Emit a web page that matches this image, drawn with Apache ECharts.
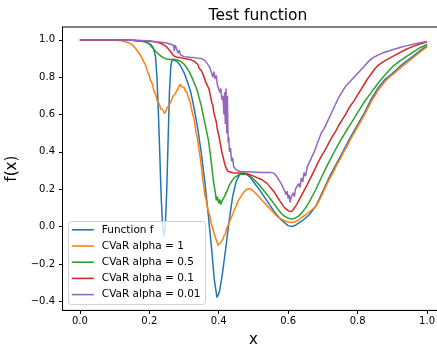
<!DOCTYPE html>
<html>
<head>
<meta charset="utf-8">
<script src="https://cdn.jsdelivr.net/npm/echarts@6/dist/echarts.min.js"></script>
<style>
  html, body { margin: 0; padding: 0; background: #fff; }
  #chart { width: 437px; height: 345px; }
</style>
</head>
<body>
<div id="chart"></div>
<script>
// Tick positions
const xTicks = [0, 0.2, 0.4, 0.6, 0.8, 1.0];
const yTicks = [-0.4, -0.2, 0.0, 0.2, 0.4, 0.6, 0.8, 1.0];

// Series names
const seriesNames = ['Function f', 'CVaR alpha = 1', 'CVaR alpha = 0.5', 'CVaR alpha = 0.1', 'CVaR alpha = 0.01'];

// Function f
const funcF = [
  [0, 1], [0.1, 1], [0.15, 0.998], [0.19, 0.99], [0.205, 0.975], [0.212, 0.955], [0.218, 0.91],
  [0.222, 0.8], [0.226, 0.62], [0.23, 0.4], [0.234, 0.17], [0.238, 0.01], [0.242, -0.05],
  [0.246, 0.0], [0.25, 0.18], [0.254, 0.45], [0.258, 0.72], [0.262, 0.86], [0.266, 0.895],
  [0.27, 0.9], [0.28, 0.885], [0.29, 0.86], [0.30, 0.825], [0.31, 0.775], [0.32, 0.715],
  [0.33, 0.625], [0.34, 0.52], [0.35, 0.39], [0.36, 0.24], [0.37, 0.06], [0.38, -0.13],
  [0.387, -0.28], [0.395, -0.38], [0.402, -0.35], [0.41, -0.26], [0.42, -0.12], [0.43, 0.03],
  [0.44, 0.16], [0.45, 0.24], [0.46, 0.278], [0.47, 0.287], [0.48, 0.28], [0.49, 0.265],
  [0.50, 0.24], [0.52, 0.19], [0.54, 0.135], [0.56, 0.08], [0.58, 0.035], [0.60, 0.005],
  [0.61, 0.0], [0.62, 0.006], [0.64, 0.03], [0.66, 0.062], [0.68, 0.11], [0.70, 0.19],
  [0.72, 0.27], [0.74, 0.34], [0.76, 0.41], [0.78, 0.48], [0.80, 0.545], [0.82, 0.61],
  [0.84, 0.685], [0.86, 0.745], [0.88, 0.79], [0.90, 0.82], [0.92, 0.855], [0.94, 0.885],
  [0.96, 0.913], [0.98, 0.942], [1.0, 0.968]
];

// CVaR, alpha = 1
const cvarA1 = [
  [0, 1], [0.05, 1], [0.1, 0.998], [0.12, 0.995], [0.13, 0.99], [0.14, 0.985], [0.15, 0.975],
  [0.155, 0.968], [0.16, 0.955], [0.165, 0.945], [0.17, 0.93], [0.175, 0.915], [0.18, 0.9],
  [0.183, 0.885], [0.185, 0.878], [0.188, 0.87], [0.19, 0.86], [0.193, 0.842], [0.195, 0.83],
  [0.198, 0.822], [0.2, 0.81], [0.203, 0.785], [0.205, 0.775], [0.208, 0.768], [0.21, 0.755],
  [0.213, 0.728], [0.215, 0.72], [0.218, 0.708], [0.22, 0.695], [0.223, 0.672], [0.225, 0.67],
  [0.228, 0.66], [0.23, 0.655], [0.233, 0.63], [0.235, 0.635], [0.238, 0.62], [0.24, 0.625],
  [0.243, 0.605], [0.245, 0.612], [0.248, 0.618], [0.25, 0.632], [0.253, 0.628], [0.255, 0.64],
  [0.258, 0.655], [0.26, 0.665], [0.263, 0.672], [0.265, 0.68], [0.268, 0.698], [0.27, 0.705],
  [0.273, 0.702], [0.275, 0.71], [0.278, 0.725], [0.28, 0.73], [0.283, 0.738], [0.285, 0.745],
  [0.288, 0.762], [0.29, 0.76], [0.293, 0.75], [0.295, 0.752], [0.298, 0.75], [0.3, 0.745],
  [0.303, 0.73], [0.305, 0.725], [0.308, 0.718], [0.31, 0.71], [0.313, 0.69], [0.315, 0.68],
  [0.318, 0.665], [0.32, 0.645], [0.323, 0.62], [0.325, 0.6], [0.328, 0.585], [0.33, 0.565],
  [0.333, 0.525], [0.335, 0.5], [0.338, 0.48], [0.34, 0.455], [0.343, 0.415], [0.345, 0.39],
  [0.348, 0.352], [0.35, 0.32], [0.353, 0.27], [0.355, 0.24], [0.358, 0.2], [0.36, 0.17],
  [0.363, 0.148], [0.365, 0.13], [0.368, 0.098], [0.37, 0.08], [0.373, 0.068], [0.375, 0.05],
  [0.378, 0.018], [0.38, 0.01], [0.383, -0.012], [0.385, -0.02], [0.388, -0.045], [0.39, -0.05],
  [0.393, -0.072], [0.395, -0.08], [0.398, -0.1], [0.4, -0.095], [0.403, -0.11], [0.406, -0.085],
  [0.41, -0.08], [0.413, -0.065], [0.415, -0.05], [0.418, -0.045], [0.42, -0.035], [0.423, -0.008],
  [0.425, 0.0], [0.428, 0.01], [0.43, 0.015], [0.433, 0.035], [0.435, 0.045], [0.44, 0.065],
  [0.445, 0.09], [0.45, 0.11], [0.455, 0.135], [0.46, 0.15], [0.465, 0.165], [0.47, 0.18],
  [0.475, 0.19], [0.48, 0.2], [0.485, 0.205], [0.49, 0.203], [0.495, 0.197], [0.5, 0.19],
  [0.51, 0.17], [0.52, 0.15], [0.53, 0.13], [0.54, 0.11], [0.55, 0.09], [0.56, 0.07],
  [0.57, 0.052], [0.58, 0.04], [0.59, 0.03], [0.6, 0.024], [0.61, 0.022], [0.62, 0.026],
  [0.63, 0.036], [0.64, 0.05], [0.65, 0.062], [0.66, 0.078], [0.67, 0.092], [0.68, 0.108],
  [0.69, 0.142], [0.70, 0.18], [0.71, 0.222], [0.72, 0.258], [0.73, 0.292], [0.74, 0.33],
  [0.75, 0.362], [0.76, 0.4], [0.77, 0.432], [0.78, 0.47], [0.79, 0.5], [0.80, 0.535],
  [0.81, 0.566], [0.82, 0.6], [0.83, 0.636], [0.84, 0.672], [0.85, 0.702], [0.86, 0.733],
  [0.87, 0.755], [0.88, 0.78], [0.89, 0.797], [0.90, 0.812], [0.92, 0.845], [0.94, 0.875],
  [0.96, 0.905], [0.98, 0.935], [1.0, 0.962]
];

// CVaR, alpha = 0.5
const cvarA05 = [
  [0, 1], [0.1, 1], [0.15, 0.998], [0.18, 0.993], [0.19, 0.988], [0.2, 0.978], [0.205, 0.968],
  [0.21, 0.955], [0.215, 0.945], [0.22, 0.935], [0.225, 0.925], [0.23, 0.918], [0.235, 0.91],
  [0.24, 0.905], [0.245, 0.9], [0.25, 0.898], [0.26, 0.895], [0.27, 0.896], [0.28, 0.892],
  [0.29, 0.885], [0.30, 0.87], [0.305, 0.86], [0.31, 0.845], [0.315, 0.83], [0.32, 0.81],
  [0.325, 0.79], [0.33, 0.765], [0.335, 0.745], [0.34, 0.715], [0.345, 0.68], [0.35, 0.645],
  [0.355, 0.6], [0.36, 0.555], [0.365, 0.51], [0.37, 0.465], [0.375, 0.4], [0.38, 0.32],
  [0.385, 0.24], [0.39, 0.185], [0.393, 0.14], [0.396, 0.16], [0.4, 0.125], [0.403, 0.145],
  [0.406, 0.118], [0.41, 0.14], [0.415, 0.155], [0.42, 0.175], [0.425, 0.195], [0.43, 0.22],
  [0.435, 0.235], [0.44, 0.25], [0.445, 0.262], [0.45, 0.27], [0.46, 0.279], [0.47, 0.282],
  [0.48, 0.28], [0.49, 0.27], [0.50, 0.255], [0.51, 0.236], [0.52, 0.215], [0.53, 0.192],
  [0.54, 0.17], [0.55, 0.145], [0.56, 0.12], [0.57, 0.094], [0.58, 0.07], [0.59, 0.055],
  [0.60, 0.045], [0.61, 0.04], [0.62, 0.045], [0.63, 0.056], [0.64, 0.075], [0.65, 0.1],
  [0.66, 0.13], [0.67, 0.165], [0.68, 0.2], [0.69, 0.24], [0.70, 0.28], [0.71, 0.318],
  [0.72, 0.355], [0.73, 0.39], [0.74, 0.425], [0.75, 0.458], [0.76, 0.49], [0.77, 0.52],
  [0.78, 0.55], [0.79, 0.58], [0.80, 0.61], [0.81, 0.64], [0.82, 0.67], [0.83, 0.695],
  [0.84, 0.72], [0.85, 0.745], [0.86, 0.77], [0.87, 0.793], [0.88, 0.815], [0.89, 0.835],
  [0.90, 0.855], [0.92, 0.885], [0.94, 0.91], [0.96, 0.935], [0.98, 0.958], [1.0, 0.975]
];

// CVaR, alpha = 0.1
const cvarA01 = [
  [0, 1], [0.1, 1], [0.15, 0.998], [0.2, 0.993], [0.22, 0.988], [0.23, 0.983], [0.24, 0.975],
  [0.25, 0.962], [0.255, 0.955], [0.26, 0.94], [0.265, 0.928], [0.27, 0.915], [0.275, 0.91],
  [0.28, 0.906], [0.29, 0.905], [0.30, 0.9], [0.31, 0.897], [0.32, 0.893], [0.325, 0.89],
  [0.33, 0.885], [0.335, 0.876], [0.34, 0.868], [0.343, 0.85], [0.346, 0.856], [0.35, 0.835],
  [0.353, 0.828], [0.356, 0.81], [0.36, 0.8], [0.363, 0.772], [0.366, 0.776], [0.37, 0.745],
  [0.373, 0.73], [0.376, 0.7], [0.38, 0.665], [0.383, 0.65], [0.386, 0.61], [0.39, 0.58],
  [0.393, 0.56], [0.396, 0.52], [0.40, 0.49], [0.403, 0.46], [0.406, 0.43], [0.41, 0.39],
  [0.413, 0.37], [0.416, 0.345], [0.42, 0.32], [0.423, 0.31], [0.426, 0.296], [0.43, 0.29],
  [0.44, 0.288], [0.45, 0.287], [0.46, 0.287], [0.47, 0.286], [0.48, 0.284], [0.49, 0.278],
  [0.50, 0.27], [0.51, 0.262], [0.52, 0.255], [0.53, 0.244], [0.54, 0.23], [0.545, 0.218],
  [0.55, 0.21], [0.555, 0.196], [0.56, 0.185], [0.565, 0.17], [0.57, 0.16], [0.575, 0.14],
  [0.58, 0.13], [0.585, 0.112], [0.59, 0.1], [0.595, 0.09], [0.60, 0.085], [0.605, 0.075],
  [0.61, 0.08], [0.615, 0.09], [0.62, 0.105], [0.625, 0.12], [0.63, 0.13], [0.635, 0.155],
  [0.64, 0.165], [0.645, 0.19], [0.65, 0.2], [0.655, 0.225], [0.66, 0.235], [0.665, 0.262],
  [0.67, 0.27], [0.675, 0.3], [0.68, 0.31], [0.685, 0.34], [0.69, 0.345], [0.695, 0.375],
  [0.70, 0.38], [0.705, 0.405], [0.71, 0.415], [0.715, 0.44], [0.72, 0.445], [0.725, 0.475],
  [0.73, 0.48], [0.735, 0.505], [0.74, 0.51], [0.745, 0.54], [0.75, 0.545], [0.755, 0.57],
  [0.76, 0.575], [0.765, 0.6], [0.77, 0.605], [0.775, 0.635], [0.78, 0.64], [0.79, 0.675],
  [0.80, 0.705], [0.81, 0.735], [0.82, 0.765], [0.83, 0.795], [0.84, 0.82], [0.85, 0.845],
  [0.86, 0.865], [0.87, 0.878], [0.88, 0.89], [0.89, 0.9], [0.90, 0.91], [0.92, 0.93],
  [0.94, 0.95], [0.96, 0.965], [0.98, 0.978], [1.0, 0.99]
];

// CVaR, alpha = 0.01
const cvarA001 = [
  [0, 1], [0.1, 1], [0.15, 0.998], [0.2, 0.995], [0.22, 0.99], [0.24, 0.986], [0.25, 0.983],
  [0.26, 0.978], [0.265, 0.975], [0.27, 0.97], [0.272, 0.94], [0.274, 0.972], [0.277, 0.96],
  [0.28, 0.95], [0.283, 0.928], [0.286, 0.945], [0.29, 0.92], [0.295, 0.915], [0.30, 0.91],
  [0.31, 0.908], [0.32, 0.906], [0.33, 0.905], [0.34, 0.902], [0.35, 0.9], [0.355, 0.895],
  [0.36, 0.89], [0.365, 0.88], [0.37, 0.865], [0.375, 0.85], [0.38, 0.84], [0.383, 0.8],
  [0.386, 0.83], [0.39, 0.79], [0.393, 0.81], [0.396, 0.76], [0.40, 0.77], [0.403, 0.72],
  [0.406, 0.74], [0.409, 0.68], [0.412, 0.7], [0.415, 0.6], [0.417, 0.72], [0.419, 0.55],
  [0.421, 0.74], [0.423, 0.5], [0.425, 0.7], [0.427, 0.45], [0.429, 0.48], [0.431, 0.4],
  [0.434, 0.42], [0.437, 0.35], [0.44, 0.37], [0.443, 0.32], [0.446, 0.33], [0.45, 0.305],
  [0.455, 0.3], [0.46, 0.295], [0.47, 0.293], [0.48, 0.293], [0.50, 0.292], [0.52, 0.29],
  [0.54, 0.29], [0.55, 0.289], [0.56, 0.285], [0.565, 0.275], [0.57, 0.26], [0.575, 0.255],
  [0.58, 0.23], [0.585, 0.22], [0.59, 0.19], [0.594, 0.17], [0.597, 0.19], [0.60, 0.15],
  [0.603, 0.17], [0.606, 0.13], [0.609, 0.16], [0.612, 0.15], [0.615, 0.18], [0.618, 0.16],
  [0.621, 0.2], [0.625, 0.19], [0.63, 0.23], [0.634, 0.21], [0.638, 0.26], [0.642, 0.24],
  [0.646, 0.29], [0.65, 0.27], [0.655, 0.32], [0.66, 0.31], [0.665, 0.36], [0.67, 0.35],
  [0.675, 0.4], [0.68, 0.41], [0.685, 0.45], [0.69, 0.44], [0.695, 0.5], [0.70, 0.49],
  [0.705, 0.53], [0.71, 0.52], [0.715, 0.57], [0.72, 0.56], [0.725, 0.61], [0.73, 0.6],
  [0.735, 0.65], [0.74, 0.64], [0.745, 0.69], [0.75, 0.68], [0.755, 0.72], [0.76, 0.71],
  [0.765, 0.75], [0.77, 0.74], [0.775, 0.77], [0.78, 0.765], [0.785, 0.79], [0.79, 0.785],
  [0.795, 0.81], [0.80, 0.815], [0.81, 0.84], [0.82, 0.86], [0.83, 0.882], [0.84, 0.898],
  [0.85, 0.91], [0.86, 0.92], [0.87, 0.928], [0.88, 0.935], [0.89, 0.94], [0.90, 0.947],
  [0.92, 0.958], [0.94, 0.968], [0.96, 0.977], [0.98, 0.985], [1.0, 0.992]
];

const palette = ['#1f77b4', '#ff7f0e', '#2ca02c', '#d62728', '#9467bd'];
const allData = [funcF, cvarA1, cvarA05, cvarA01, cvarA001];

const FONT = 'DejaVu Sans';
const fmt = v => v.toFixed(1).replace('-', '\u2212');

const chart = echarts.init(document.getElementById('chart'), null, { renderer: 'canvas' });

chart.setOption({
  animation: false,
  backgroundColor: '#fff',
  color: palette,
  title: {
    text: 'Test function',
    left: 253,
    textAlign: 'center',
    top: 3,
    textStyle: { fontFamily: FONT, fontSize: 15.5, fontWeight: 'normal', color: '#000' }
  },
  grid: {
    left: 62.5,
    top: 27,
    right: -7.4,
    bottom: 34.6,
    show: true,
    borderColor: '#000',
    borderWidth: 1,
    backgroundColor: 'transparent',
    outerBoundsMode: 'none'
  },
  legend: {
    orient: 'vertical',
    left: 68.5,
    top: 221.5,
    data: seriesNames,
    icon: 'path://M0,0 L22,0 L22,1.6 L0,1.6 Z',
    itemWidth: 22,
    itemHeight: 12,
    itemGap: 4.2,
    padding: [2.3, 5, 4, 3.3],
    backgroundColor: 'rgba(255,255,255,0.8)',
    borderColor: '#d0d0d0',
    borderWidth: 1,
    borderRadius: 3,
    textStyle: { fontFamily: FONT, fontSize: 10.5, color: '#000', lineHeight: 12, padding: [0, 0, 0, 3] }
  },
  xAxis: {
    type: 'value',
    min: -0.05,
    max: 1.05,
    name: 'x',
    nameLocation: 'middle',
    nameGap: 22,
    nameTextStyle: { fontFamily: FONT, fontSize: 15, color: '#000' },
    splitLine: { show: false },
    axisLine: { show: true, onZero: false, lineStyle: { color: '#000', width: 1 } },
    axisTick: { show: true, inside: false, length: 3.5, lineStyle: { color: '#000', width: 1 }, customValues: xTicks },
    axisLabel: { customValues: xTicks, formatter: fmt, margin: 6, fontFamily: FONT, fontSize: 10, color: '#000' }
  },
  yAxis: {
    type: 'value',
    min: -0.449,
    max: 1.069,
    name: 'f(x)',
    nameLocation: 'middle',
    nameGap: 28,
    nameTextStyle: { fontFamily: FONT, fontSize: 15, color: '#000' },
    splitLine: { show: false },
    axisLine: { show: true, onZero: false, lineStyle: { color: '#000', width: 1 } },
    axisTick: { show: true, inside: false, length: 3.5, lineStyle: { color: '#000', width: 1 }, customValues: yTicks },
    axisLabel: { customValues: yTicks, formatter: fmt, margin: 7.5, fontFamily: FONT, fontSize: 10, color: '#000' }
  },
  series: seriesNames.map((name, i) => ({
    name: name,
    type: 'line',
    data: allData[i],
    symbol: 'none',
    showSymbol: false,
    smooth: false,
    clip: true,
    lineStyle: { width: 1.5, color: palette[i] },
    itemStyle: { color: palette[i] },
    z: 2 + i * 0.01
  }))
});
</script>
</body>
</html>
